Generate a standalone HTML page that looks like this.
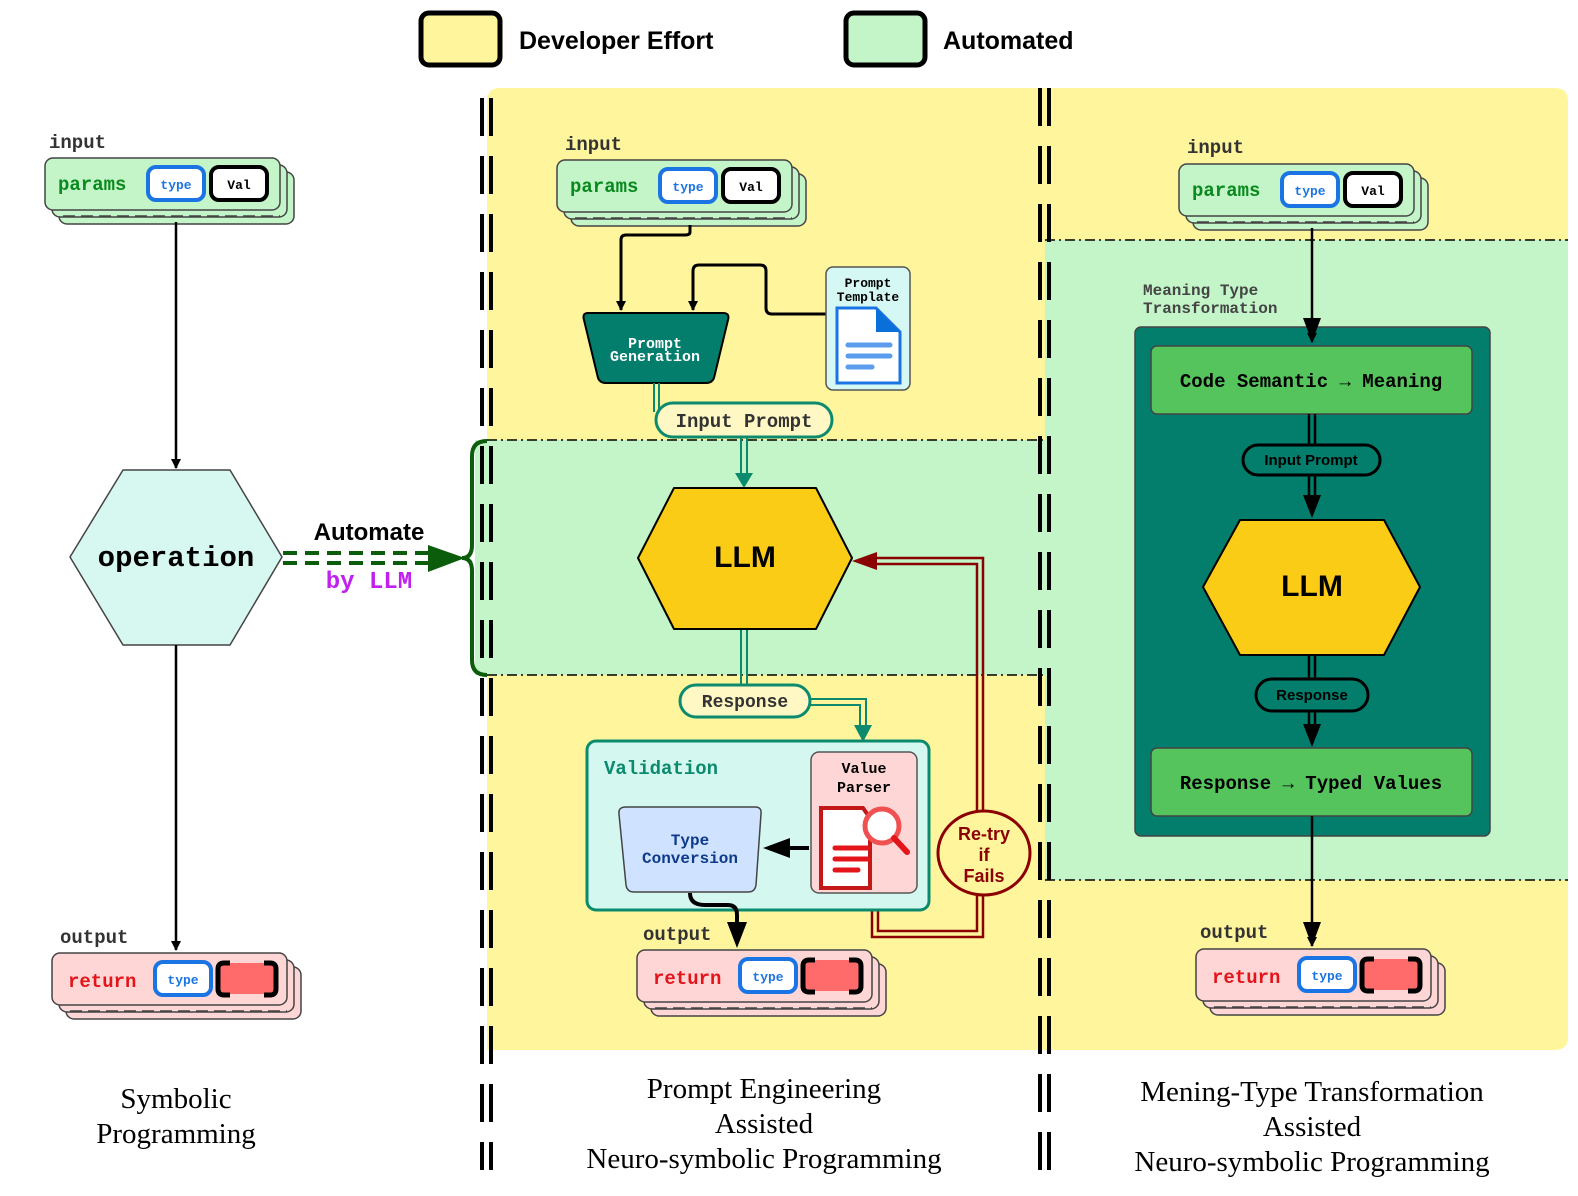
<!DOCTYPE html>
<html><head><meta charset="utf-8"><style>
html,body{margin:0;padding:0;background:#fff}
svg{display:block}
.m{font-family:"Liberation Mono",monospace;font-weight:bold}
.s{font-family:"Liberation Sans",sans-serif;font-weight:bold}
.r{font-family:"Liberation Serif",serif}
</style></head><body>
<svg width="1578" height="1196" viewBox="0 0 1578 1196" xmlns="http://www.w3.org/2000/svg">
<defs>
<marker id="ab" markerWidth="10" markerHeight="10" refX="9" refY="5" orient="auto" markerUnits="userSpaceOnUse" viewBox="0 0 10 10"><path d="M0,0 L10,5 L0,10z" fill="#000"/></marker>
</defs>
<rect x="421" y="13" width="79" height="52" rx="8" fill="#FFF59D" stroke="#000" stroke-width="5"/>
<text x="519" y="49" class="s" font-size="25">Developer Effort</text>
<rect x="846" y="13" width="79" height="52" rx="8" fill="#C3F5C8" stroke="#000" stroke-width="5"/>
<text x="943" y="49" class="s" font-size="25">Automated</text>

<path d="M500,88 H1045 V1050 H487 V101 Q487,88 500,88z" fill="#FFF59D"/>
<path d="M1045,88 H1555 Q1568,88 1568,101 V1037 Q1568,1050 1555,1050 H1045z" fill="#FFF59D"/>
<rect x="475" y="440" width="570" height="235" fill="#C3F5C8"/>
<rect x="1045" y="240" width="523" height="640" fill="#C3F5C8"/>
<g stroke="#000" stroke-width="1.5" stroke-dasharray="10,4,2,4" fill="none">
<line x1="487" y1="440" x2="1045" y2="440"/><line x1="487" y1="675" x2="1045" y2="675"/>
<line x1="1045" y1="240" x2="1568" y2="240"/><line x1="1045" y1="880" x2="1568" y2="880"/>
</g>
<g stroke="#000" stroke-width="4" stroke-dasharray="38,20">
<line x1="482" y1="98" x2="482" y2="1170"/><line x1="491" y1="98" x2="491" y2="1170"/>
<line x1="1040" y1="88" x2="1040" y2="1170"/><line x1="1049" y1="88" x2="1049" y2="1170"/>
</g>

<text x="49" y="148" class="m" font-size="19" fill="#333">input</text>
<g transform="translate(45,158)">
<rect x="14" y="14" width="235" height="52" rx="8" fill="#C3F5C8" stroke="#444" stroke-width="1.5"/>
<rect x="7" y="7" width="235" height="52" rx="8" fill="#C3F5C8" stroke="#444" stroke-width="1.5"/>
<line x1="18" y1="58" x2="235" y2="58" stroke="#444" stroke-width="1.5" stroke-dasharray="12,6"/>
<rect x="0" y="0" width="235" height="52" rx="8" fill="#C3F5C8" stroke="#444" stroke-width="1.5"/>
<text x="13" y="32" class="m" font-size="19" fill="#0A8A1E">params</text>
<rect x="103" y="9" width="56" height="33" rx="8" fill="#fff" stroke="#1B74E4" stroke-width="4"/>
<text x="131" y="31" class="m" font-size="13" fill="#1B74E4" text-anchor="middle">type</text>
<rect x="166" y="9" width="56" height="33" rx="8" fill="#fff" stroke="#000" stroke-width="4"/>
<text x="194" y="31" class="m" font-size="13" text-anchor="middle">Val</text>
</g>
<line x1="176" y1="222" x2="176" y2="468" stroke="#000" stroke-width="2.5" marker-end="url(#ab)"/>
<polygon points="70,557 123,470 230,470 282,557 230,645 123,645" fill="#D6F8F0" stroke="#444" stroke-width="1.5" stroke-linejoin="round"/>
<text x="176" y="566" class="m" font-size="29" text-anchor="middle">operation</text>
<line x1="176" y1="645" x2="176" y2="950" stroke="#000" stroke-width="2.5" marker-end="url(#ab)"/>
<text x="60" y="943" class="m" font-size="19" fill="#333">output</text>
<g transform="translate(52,953)">
<rect x="14" y="14" width="235" height="52" rx="8" fill="#FFD6D6" stroke="#444" stroke-width="1.5"/>
<rect x="7" y="7" width="235" height="52" rx="8" fill="#FFD6D6" stroke="#444" stroke-width="1.5"/>
<line x1="18" y1="58" x2="235" y2="58" stroke="#444" stroke-width="1.5" stroke-dasharray="12,6"/>
<rect x="0" y="0" width="235" height="52" rx="8" fill="#FFD6D6" stroke="#444" stroke-width="1.5"/>
<text x="16" y="34" class="m" font-size="19" fill="#E4141B">return</text>
<rect x="103" y="9" width="56" height="33" rx="8" fill="#fff" stroke="#1B74E4" stroke-width="4"/>
<text x="131" y="31" class="m" font-size="13" fill="#1B74E4" text-anchor="middle">type</text>
<rect x="168" y="10" width="54" height="31" rx="6" fill="#FF6B6B"/>
<path d="M178,10 H172 Q166,10 166,16 V36 Q166,42 172,42 H178 M212,10 H218 Q224,10 224,16 V36 Q224,42 218,42 H212" fill="none" stroke="#000" stroke-width="5"/>
</g>

<text x="369" y="540" class="s" font-size="24" text-anchor="middle">Automate</text>
<text x="369" y="588" class="m" font-size="24" fill="#C020F0" text-anchor="middle">by LLM</text>
<g stroke="#0B5C0B" stroke-width="4" stroke-dasharray="14,8">
<line x1="283" y1="553" x2="432" y2="553"/><line x1="283" y1="563" x2="432" y2="563"/>
</g>
<path d="M428,545 L465,558 L428,572z" fill="#0B5C0B"/>
<path d="M487,441 Q472,441 472,456 V545 Q472,558 462,558 Q472,558 472,571 V660 Q472,675 487,675" fill="none" stroke="#0B5C0B" stroke-width="4"/>

<text x="565" y="150" class="m" font-size="19" fill="#333">input</text>
<g transform="translate(557,160)">
<rect x="14" y="14" width="235" height="52" rx="8" fill="#C3F5C8" stroke="#444" stroke-width="1.5"/>
<rect x="7" y="7" width="235" height="52" rx="8" fill="#C3F5C8" stroke="#444" stroke-width="1.5"/>
<line x1="18" y1="58" x2="235" y2="58" stroke="#444" stroke-width="1.5" stroke-dasharray="12,6"/>
<rect x="0" y="0" width="235" height="52" rx="8" fill="#C3F5C8" stroke="#444" stroke-width="1.5"/>
<text x="13" y="32" class="m" font-size="19" fill="#0A8A1E">params</text>
<rect x="103" y="9" width="56" height="33" rx="8" fill="#fff" stroke="#1B74E4" stroke-width="4"/>
<text x="131" y="31" class="m" font-size="13" fill="#1B74E4" text-anchor="middle">type</text>
<rect x="166" y="9" width="56" height="33" rx="8" fill="#fff" stroke="#000" stroke-width="4"/>
<text x="194" y="31" class="m" font-size="13" text-anchor="middle">Val</text>
</g>
<path d="M690,225 V232 Q690,235 685,235 H626 Q621,235 621,240 V310" fill="none" stroke="#000" stroke-width="3" marker-end="url(#ab)"/>
<path d="M826,314 H772 Q766,314 766,308 V271 Q766,265 760,265 H699 Q693,265 693,271 V310" fill="none" stroke="#000" stroke-width="3" marker-end="url(#ab)"/>
<path d="M588,313 H723 Q730,313 728,320 L714,378 Q712,383 706,383 H606 Q600,383 598,378 L584,320 Q582,313 588,313z" fill="#037D6C" stroke="#000" stroke-width="2"/>
<text x="655" y="348" class="m" font-size="15" fill="#fff" text-anchor="middle">Prompt</text>
<text x="655" y="361" class="m" font-size="15" fill="#fff" text-anchor="middle">Generation</text>
<rect x="826" y="267" width="84" height="123" rx="7" fill="#D6F8F4" stroke="#555" stroke-width="1.5"/>
<text x="868" y="287" class="m" font-size="13" text-anchor="middle">Prompt</text>
<text x="868" y="301" class="m" font-size="13" text-anchor="middle">Template</text>
<path d="M837,308 H876 L900,332 V383 H837z" fill="#fff" stroke="#1B74E4" stroke-width="3"/>
<path d="M876,308 V332 H900z" fill="#0A6FD8"/>
<g stroke="#5B9CEC" stroke-width="5" stroke-linecap="round"><line x1="848" y1="345" x2="890" y2="345"/><line x1="848" y1="356" x2="890" y2="356"/><line x1="848" y1="367" x2="872" y2="367"/></g>
<g stroke="#0B8A6E" stroke-width="2" fill="none">
<line x1="654" y1="383" x2="654" y2="412"/><line x1="659" y1="383" x2="659" y2="412"/>
<line x1="741" y1="437" x2="741" y2="475"/><line x1="747" y1="437" x2="747" y2="475"/>
<line x1="741" y1="629" x2="741" y2="685"/><line x1="747" y1="629" x2="747" y2="685"/>
<path d="M810,699 H866 V728 M810,705 H860 V728"/>
</g>
<path d="M735,473 L744,488 L753,473z" fill="#0B8A6E"/>
<path d="M854,725 L863,742 L872,725z" fill="#0B8A6E"/>
<rect x="656" y="403" width="176" height="34" rx="17" fill="#FFF8C4" stroke="#0B8A6E" stroke-width="3"/>
<text x="744" y="427" class="m" font-size="19" fill="#333" text-anchor="middle">Input Prompt</text>
<polygon points="638,558 674,488 816,488 852,558 816,629 674,629" fill="#FACC15" stroke="#000" stroke-width="2" stroke-linejoin="round"/>
<text x="745" y="567" class="s" font-size="30" text-anchor="middle">LLM</text>
<rect x="680" y="685" width="130" height="32" rx="16" fill="#FFF8C4" stroke="#0B8A6E" stroke-width="3"/>
<text x="745" y="707" class="m" font-size="18" fill="#333" text-anchor="middle">Response</text>
<g stroke="#8B0000" stroke-width="2.5" fill="none">
<path d="M872,558 H983 V812 M872,564 H977 V812"/>
<path d="M983,894 V937 H872 V911 M977,894 V931 H878 V911"/>
</g>
<path d="M852,561 L877,552 L877,570z" fill="#8B0000"/>
<ellipse cx="984" cy="853" rx="46" ry="42" fill="#FFF59D" stroke="#8B0000" stroke-width="3"/>
<text x="984" y="840" class="s" font-size="18" fill="#8B0000" text-anchor="middle">Re-try</text>
<text x="984" y="861" class="s" font-size="18" fill="#8B0000" text-anchor="middle">if</text>
<text x="984" y="882" class="s" font-size="18" fill="#8B0000" text-anchor="middle">Fails</text>
<rect x="587" y="741" width="342" height="169" rx="9" fill="#D4F8EF" stroke="#0B8A6E" stroke-width="3"/>
<text x="604" y="774" class="m" font-size="19" fill="#0B8A6E">Validation</text>
<rect x="811" y="752" width="106" height="141" rx="8" fill="#FFD6D6" stroke="#555" stroke-width="1.5"/>
<text x="864" y="773" class="m" font-size="15" text-anchor="middle">Value</text>
<text x="864" y="792" class="m" font-size="15" text-anchor="middle">Parser</text>
<path d="M821,808 H863 L870,818 V888 H821z" fill="#fff" stroke="#C41818" stroke-width="4"/>
<g stroke="#E4141B" stroke-width="5" stroke-linecap="round"><line x1="835" y1="848" x2="868" y2="848"/><line x1="835" y1="859" x2="868" y2="859"/><line x1="835" y1="870" x2="858" y2="870"/></g>
<circle cx="882" cy="826" r="17" fill="#fff" stroke="#F05050" stroke-width="5"/>
<line x1="894" y1="838" x2="907" y2="852" stroke="#E4141B" stroke-width="6" stroke-linecap="round"/>
<path d="M626,807 H755 Q762,807 761,814 L756,885 Q755,892 748,892 H634 Q627,892 626,885 L619,814 Q618,807 626,807z" fill="#CFE2FF" stroke="#444" stroke-width="1.5"/>
<text x="690" y="845" class="m" font-size="16" fill="#0D3A8A" text-anchor="middle">Type</text>
<text x="690" y="863" class="m" font-size="16" fill="#0D3A8A" text-anchor="middle">Conversion</text>
<line x1="809" y1="848" x2="790" y2="848" stroke="#000" stroke-width="4"/>
<path d="M763,848 L790,838 L790,858z" fill="#000"/>
<path d="M690,893 Q690,905 705,905 H728 Q737,905 737,915 V925" fill="none" stroke="#000" stroke-width="4"/>
<path d="M727,922 L737,948 L747,922z" fill="#000"/>
<text x="643" y="940" class="m" font-size="19" fill="#333">output</text>
<g transform="translate(637,950)">
<rect x="14" y="14" width="235" height="52" rx="8" fill="#FFD6D6" stroke="#444" stroke-width="1.5"/>
<rect x="7" y="7" width="235" height="52" rx="8" fill="#FFD6D6" stroke="#444" stroke-width="1.5"/>
<line x1="18" y1="58" x2="235" y2="58" stroke="#444" stroke-width="1.5" stroke-dasharray="12,6"/>
<rect x="0" y="0" width="235" height="52" rx="8" fill="#FFD6D6" stroke="#444" stroke-width="1.5"/>
<text x="16" y="34" class="m" font-size="19" fill="#E4141B">return</text>
<rect x="103" y="9" width="56" height="33" rx="8" fill="#fff" stroke="#1B74E4" stroke-width="4"/>
<text x="131" y="31" class="m" font-size="13" fill="#1B74E4" text-anchor="middle">type</text>
<rect x="168" y="10" width="54" height="31" rx="6" fill="#FF6B6B"/>
<path d="M178,10 H172 Q166,10 166,16 V36 Q166,42 172,42 H178 M212,10 H218 Q224,10 224,16 V36 Q224,42 218,42 H212" fill="none" stroke="#000" stroke-width="5"/>
</g>

<text x="1187" y="153" class="m" font-size="19" fill="#333">input</text>
<g transform="translate(1179,164)">
<rect x="14" y="14" width="235" height="52" rx="8" fill="#C3F5C8" stroke="#444" stroke-width="1.5"/>
<rect x="7" y="7" width="235" height="52" rx="8" fill="#C3F5C8" stroke="#444" stroke-width="1.5"/>
<line x1="18" y1="58" x2="235" y2="58" stroke="#444" stroke-width="1.5" stroke-dasharray="12,6"/>
<rect x="0" y="0" width="235" height="52" rx="8" fill="#C3F5C8" stroke="#444" stroke-width="1.5"/>
<text x="13" y="32" class="m" font-size="19" fill="#0A8A1E">params</text>
<rect x="103" y="9" width="56" height="33" rx="8" fill="#fff" stroke="#1B74E4" stroke-width="4"/>
<text x="131" y="31" class="m" font-size="13" fill="#1B74E4" text-anchor="middle">type</text>
<rect x="166" y="9" width="56" height="33" rx="8" fill="#fff" stroke="#000" stroke-width="4"/>
<text x="194" y="31" class="m" font-size="13" text-anchor="middle">Val</text>
</g>
<text x="1143" y="295" class="m" font-size="16" fill="#444">Meaning Type</text>
<text x="1143" y="313" class="m" font-size="16" fill="#444">Transformation</text>
<rect x="1135" y="327" width="355" height="509" rx="6" fill="#037D6C" stroke="#444" stroke-width="1.5"/>
<line x1="1312" y1="228" x2="1312" y2="342" stroke="#000" stroke-width="2.5" marker-end="url(#ab)"/>
<path d="M1303,318 L1312,342 L1321,318z" fill="#000"/>
<rect x="1151" y="346" width="321" height="68" rx="6" fill="#55C45C" stroke="#444" stroke-width="1.5"/>
<text x="1311" y="387" class="m" font-size="19" text-anchor="middle">Code Semantic → Meaning</text>
<g stroke="#000" stroke-width="2.5">
<line x1="1309" y1="414" x2="1309" y2="445"/><line x1="1315" y1="414" x2="1315" y2="445"/>
<line x1="1309" y1="475" x2="1309" y2="500"/><line x1="1315" y1="475" x2="1315" y2="500"/>
<line x1="1309" y1="655" x2="1309" y2="679"/><line x1="1315" y1="655" x2="1315" y2="679"/>
<line x1="1309" y1="711" x2="1309" y2="730"/><line x1="1315" y1="711" x2="1315" y2="730"/>
</g>
<path d="M1303,495 L1312,518 L1321,495z" fill="#000"/>
<path d="M1303,724 L1312,747 L1321,724z" fill="#000"/>
<rect x="1243" y="445" width="137" height="30" rx="15" fill="#037D6C" stroke="#000" stroke-width="3"/>
<text x="1311" y="465" class="s" font-size="15" text-anchor="middle">Input Prompt</text>
<polygon points="1203,587 1240,520 1384,520 1420,587 1384,655 1240,655" fill="#FACC15" stroke="#000" stroke-width="2" stroke-linejoin="round"/>
<text x="1312" y="596" class="s" font-size="30" text-anchor="middle">LLM</text>
<rect x="1256" y="679" width="112" height="32" rx="16" fill="#037D6C" stroke="#000" stroke-width="3"/>
<text x="1312" y="700" class="s" font-size="15" text-anchor="middle">Response</text>
<rect x="1151" y="748" width="321" height="68" rx="6" fill="#55C45C" stroke="#444" stroke-width="1.5"/>
<text x="1311" y="789" class="m" font-size="19" text-anchor="middle">Response → Typed Values</text>
<line x1="1312" y1="816" x2="1312" y2="946" stroke="#000" stroke-width="2.5" marker-end="url(#ab)"/>
<path d="M1303,922 L1312,946 L1321,922z" fill="#000"/>
<text x="1200" y="938" class="m" font-size="19" fill="#333">output</text>
<g transform="translate(1196,949)">
<rect x="14" y="14" width="235" height="52" rx="8" fill="#FFD6D6" stroke="#444" stroke-width="1.5"/>
<rect x="7" y="7" width="235" height="52" rx="8" fill="#FFD6D6" stroke="#444" stroke-width="1.5"/>
<line x1="18" y1="58" x2="235" y2="58" stroke="#444" stroke-width="1.5" stroke-dasharray="12,6"/>
<rect x="0" y="0" width="235" height="52" rx="8" fill="#FFD6D6" stroke="#444" stroke-width="1.5"/>
<text x="16" y="34" class="m" font-size="19" fill="#E4141B">return</text>
<rect x="103" y="9" width="56" height="33" rx="8" fill="#fff" stroke="#1B74E4" stroke-width="4"/>
<text x="131" y="31" class="m" font-size="13" fill="#1B74E4" text-anchor="middle">type</text>
<rect x="168" y="10" width="54" height="31" rx="6" fill="#FF6B6B"/>
<path d="M178,10 H172 Q166,10 166,16 V36 Q166,42 172,42 H178 M212,10 H218 Q224,10 224,16 V36 Q224,42 218,42 H212" fill="none" stroke="#000" stroke-width="5"/>
</g>

<g class="r" font-size="29" text-anchor="middle">
<text x="176" y="1108" class="r">Symbolic</text>
<text x="176" y="1143" class="r">Programming</text>
<text x="764" y="1098" class="r">Prompt Engineering</text>
<text x="764" y="1133" class="r">Assisted</text>
<text x="764" y="1168" class="r">Neuro-symbolic Programming</text>
<text x="1312" y="1101" class="r">Mening-Type Transformation</text>
<text x="1312" y="1136" class="r">Assisted</text>
<text x="1312" y="1171" class="r">Neuro-symbolic Programming</text>
</g>
</svg>
</body></html>
